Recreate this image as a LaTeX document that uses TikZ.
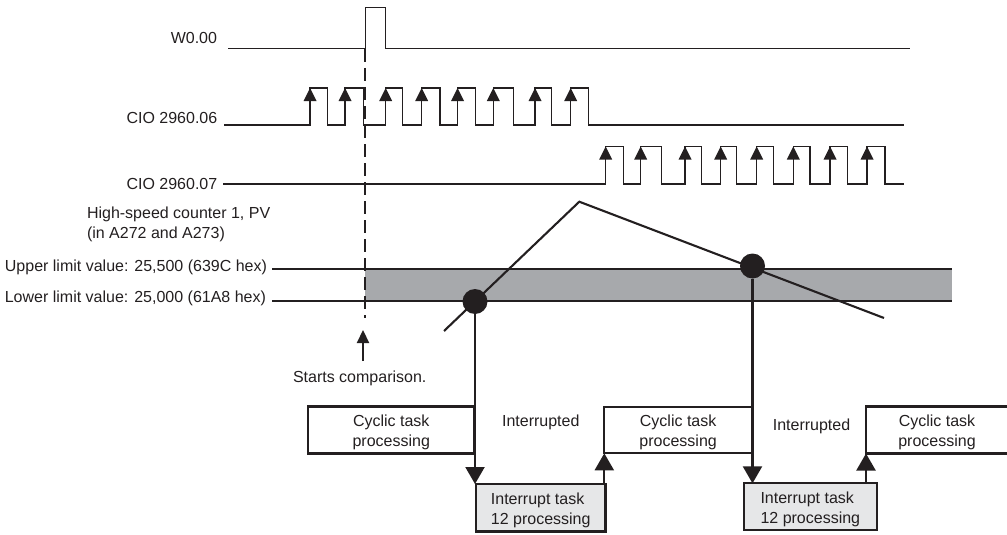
\documentclass[tikz,border=0pt]{standalone}
\usepackage{fontspec}
\setmainfont{Liberation Sans}
\usetikzlibrary{arrows.meta}
\definecolor{ink}{HTML}{231F20}
\definecolor{band}{HTML}{A7A9AC}
\definecolor{intfill}{HTML}{E6E7E8}
\begin{document}
\begin{tikzpicture}[x=1pt,y=-1pt,
  every node/.style={font=\fontsize{16}{20}\selectfont, inner sep=0pt, outer sep=0pt, text=ink},
  wave/.style={draw=ink, line width=1.3pt},
  thickline/.style={draw=ink, line width=2.1pt},
  bigarr/.style={draw=ink, line width=2.2pt, -{Triangle[width=19pt,length=17pt]}},
  smallarr/.style={draw=ink, line width=2.2pt, -{Triangle[width=12pt,length=13pt]}},
  cycbox/.style={draw=ink, line width=2.2pt, fill=white},
  intbox/.style={draw=ink, line width=2.2pt, fill=intfill},
  boxtext/.style={align=center},
  inttext/.style={align=left},
  dot/.style={circle, fill=ink, minimum size=25pt},
  edge/.style={fill=ink}
]
\useasboundingbox (0,0) rectangle (1007,535);

% signal labels
\node[anchor=base east] (lw0) at (217,43.5) {W0.00};
\node[anchor=base east] (l06) at (217.3,123.3) {CIO 2960.06};
\node[anchor=base east] (l07) at (217.3,189.2) {CIO 2960.07};
\node[anchor=west, align=left] (lpv) at (87,224.2) {High-speed counter 1, PV\\(in A272 and A273)};
\node[anchor=base east] (lup) at (267,271) {Upper limit value: 25,500 (639C hex)};
\node[anchor=base east] (llo) at (266,302.5) {Lower limit value: 25,000 (61A8 hex)};

% W0.00
\draw[wave] (228,48.3) -- (365.7,48.3) -- (365.7,7.3) -- (385.7,7.3) -- (385.7,48.3) -- (910,48.3);

% CIO 2960.06
\draw[wave] (224,125)
  foreach \r/\f in {310/327.7, 345/363.3, 385.7/402.3, 421.7/440, 457.5/475.7, 493.3/513.3, 535/551.7, 570.7/588.3}
  { -- (\r,125) -- (\r,88) -- (\f,88) -- (\f,125) } -- (904,125);
\foreach \r in {310, 345, 385.7, 421.7, 457.5, 493.3, 535, 570.7}
  \fill[edge] (\r,88) -- ++(-6.5,13) -- ++(13,0) -- cycle;

% CIO 2960.07
\draw[wave] (223,184)
  foreach \r/\f in {605.7/623.3, 640.7/661.7, 685/701.7, 720.7/736.7, 756.7/773.3, 793.3/810, 830/847.7, 867/885}
  { -- (\r,184) -- (\r,146.5) -- (\f,146.5) -- (\f,184) } -- (904,184);
\foreach \r in {605.7, 640.7, 685, 720.7, 756.7, 793.3, 830, 867}
  \fill[edge] (\r,146.5) -- ++(-6.5,13) -- ++(13,0) -- cycle;

% comparison band
\fill[band] (365,269) rectangle (952,301);
\draw[wave] (272,269) -- (952,269);
\draw[wave] (272,301) -- (952,301);

% start of comparison
\draw[ink, line width=2.4pt, dash pattern=on 13pt off 6pt] (365,49) -- (365,318);
\coordinate (sc) at (363,330);
\node[anchor=base] (lsc) at (359.7,382.3) {Starts comparison.};
\draw[smallarr] (363,361) -- (sc);

% present value
\draw[thickline] (444,331) -- (579.3,201.7) -- (884,318);
\node[dot] (c1) at (475,301.5) {};
\node[dot] (c2) at (752.5,266) {};

% task boxes
\node[cycbox, minimum width=166.5pt, minimum height=47pt] (cyc1) at (391.25,430) {};
\node[boxtext] (cyc1t) at ([yshift=-2.5pt]cyc1.center) {Cyclic task\\processing};
\node[intbox, minimum width=129.5pt, minimum height=47.5pt] (int1) at (540.75,507.75) {};
\node[inttext] (int1t) at ([yshift=-2.5pt]int1.center) {Interrupt task\\12 processing};
\node[cycbox, minimum width=147.7pt, minimum height=46.6pt] (cyc2) at (678.15,430) {};
\node[boxtext] (cyc2t) at ([yshift=-2.5pt]cyc2.center) {Cyclic task\\processing};
\node[intbox, minimum width=132.7pt, minimum height=46.7pt] (int2) at (810.35,506.7) {};
\node[inttext] (int2t) at ([yshift=-2.5pt]int2.center) {Interrupt task\\12 processing};
\node[minimum width=142pt, minimum height=47pt] (cyc3) at (937,430) {};
\node[boxtext] (cyc3t) at ([yshift=-2.5pt]cyc3.center) {Cyclic task\\processing};
\draw[ink, line width=2.2pt] (cyc3.north east) -- (cyc3.north west) -- (cyc3.south west) -- (cyc3.south east);

\node[anchor=base] (ti1) at (540.8,426.5) {Interrupted};
\node[anchor=base] (ti2) at (811.5,430.5) {Interrupted};

% task switching arrows
\draw[bigarr] (c1.south) -- (c1.center |- int1.north);
\draw[bigarr] (cyc2.south west |- int1.north) -- (cyc2.south west);
\draw[bigarr] (c2.south) -- (c2.center |- int2.north);
\draw[bigarr] (cyc3.south west |- int2.north) -- (cyc3.south west);
\end{tikzpicture}
\end{document}
